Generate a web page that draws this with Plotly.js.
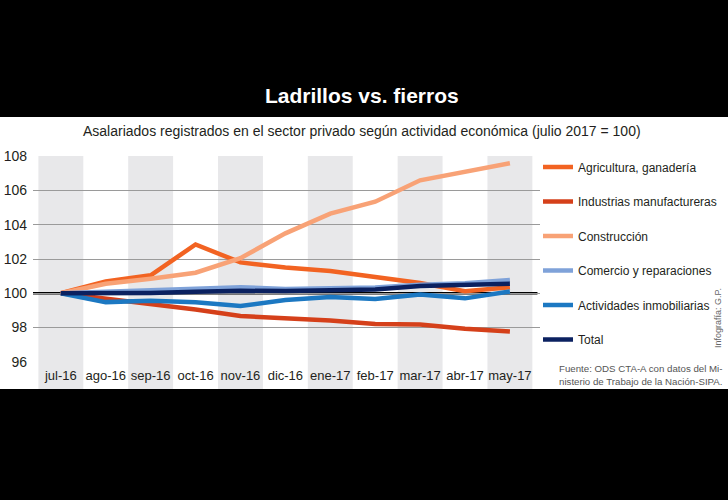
<!DOCTYPE html>
<html>
<head>
<meta charset="utf-8">
<script src="https://cdn.plot.ly/plotly-3.0.1.min.js"></script>
<style>
  html, body { margin: 0; padding: 0; background: #000; }
  #chart { width: 728px; height: 500px; }
</style>
</head>
<body>
<div id="chart"></div>
<script>
const categories = ['jul-16','ago-16','sep-16','oct-16','nov-16','dic-16','ene-17','feb-17','mar-17','abr-17','may-17'];
const seriesNames = ['Agricultura, ganadería','Industrias manufactureras','Construcción','Comercio y reparaciones','Actividades inmobiliarias','Total'];
const agricultura = [100, 100.68, 101.05, 102.85, 101.8, 101.5, 101.3, 100.98, 100.6, 100.12, 100.35];
const industrias  = [100, 99.7, 99.38, 99.05, 98.67, 98.55, 98.4, 98.2, 98.17, 97.93, 97.76];
const construccion = [100, 100.55, 100.85, 101.2, 102.05, 103.5, 104.65, 105.35, 106.6, 107.1, 107.6];
const comercio = [100, 100.1, 100.2, 100.28, 100.35, 100.25, 100.3, 100.33, 100.5, 100.58, 100.78];
const actividades = [100, 99.48, 99.56, 99.47, 99.25, 99.6, 99.78, 99.66, 99.93, 99.7, 100.1];
const total = [100, 99.98, 100.02, 100.08, 100.14, 100.13, 100.18, 100.22, 100.42, 100.47, 100.55];
const yTicks = [96, 98, 100, 102, 104, 106, 108];
const baseValue = 100;

const colors = ['#F26322', '#D5401A', '#F8A276', '#7FA2D9', '#1C78C2', '#0B2160'];
const allSeries = [agricultura, industrias, construccion, comercio, actividades, total];

const FONT = '"Liberation Sans", Arial, sans-serif';

const traces = allSeries.map((vals, i) => ({
  type: 'scatter',
  mode: 'lines',
  x: categories,
  y: vals,
  name: seriesNames[i],
  legendgroup: 'g' + i,
  line: { color: colors[i], width: 4.5, shape: 'linear' },
  hoverinfo: 'skip'
}));

const shapes = [];
// white panel background
shapes.push({ type: 'rect', xref: 'paper', yref: 'paper', x0: -0.08, x1: 1.4, y0: -0.131, y1: 1.189, fillcolor: '#ffffff', line: { width: 0 }, layer: 'below' });
// alternating gray bands (extend down behind the category labels)
categories.forEach((c, i) => {
  if (i % 2 === 0) {
    shapes.push({ type: 'rect', xref: 'x', yref: 'paper', x0: i - 0.5, x1: i + 0.5, y0: -0.131, y1: 1, fillcolor: '#E8E8EA', line: { width: 0 }, layer: 'below' });
  }
});
// base line at 100
shapes.push({ type: 'line', xref: 'paper', yref: 'y', x0: 0, x1: 0.995, y0: baseValue, y1: baseValue, line: { color: '#000', width: 2.5 }, layer: 'between' });

const layout = {
  width: 728, height: 500,
  paper_bgcolor: '#000000',
  plot_bgcolor: 'rgba(0,0,0,0)',
  margin: { l: 33, r: 188, t: 156, b: 138, autoexpand: false },
  showlegend: true,
  title: {
    text: '<b>Ladrillos vs. fierros</b>',
    font: { family: FONT, size: 21, color: '#ffffff' },
    x: 0.497, xanchor: 'center',
    xref: 'container', yref: 'container',
    y: 1 - 96 / 500, yanchor: 'middle'
  },
  xaxis: {
    type: 'category',
    range: [-0.62, 10.67],
    showgrid: false, zeroline: false, showline: false,
    ticks: '',
    ticklabelstandoff: 4,
    tickangle: 0,
    tickfont: { family: FONT, size: 13, color: '#231F20' },
    fixedrange: true
  },
  yaxis: {
    range: [95.98, 108.02],
    tickvals: yTicks,
    ticktext: yTicks.map(String),
    showgrid: true, gridcolor: '#9A9A9A', gridwidth: 1,
    zeroline: false, showline: false,
    ticks: '',
    ticklabelstandoff: 5,
    tickfont: { family: FONT, size: 14, color: '#231F20' },
    fixedrange: true
  },
  legend: {
    x: (538 - 33) / 507, xanchor: 'left',
    y: 1.017, yanchor: 'top',
    traceorder: 'grouped',
    tracegroupgap: 15.5,
    bgcolor: 'rgba(0,0,0,0)',
    font: { family: FONT, size: 12, color: '#231F20' },
    itemclick: false, itemdoubleclick: false
  },
  shapes: shapes,
  annotations: [
    {
      text: 'Asalariados registrados en el sector privado según actividad económica (julio 2017 = 100)',
      xref: 'paper', yref: 'paper', x: 0.649, y: 1.121, xanchor: 'center', yanchor: 'middle',
      showarrow: false,
      font: { family: FONT, size: 14, color: '#231F20' }
    },
    {
      text: 'Fuente: ODS CTA-A con datos del Mi-<br>nisterio de Trabajo de la Nación-SIPA.',
      xref: 'paper', yref: 'paper', x: 1.0335, y: -0.063, xanchor: 'left', yanchor: 'middle', align: 'left',
      showarrow: false,
      font: { family: FONT, size: 9.7, color: '#555555' }
    },
    {
      text: 'Infografía: G.P.',
      xref: 'paper', yref: 'paper', x: 1.351, y: 0.2136, xanchor: 'center', yanchor: 'middle',
      textangle: -90, showarrow: false,
      font: { family: FONT, size: 9, color: '#666666' }
    }
  ]
};

Plotly.newPlot('chart', traces, layout, { displayModeBar: false, staticPlot: true });
</script>
</body>
</html>
